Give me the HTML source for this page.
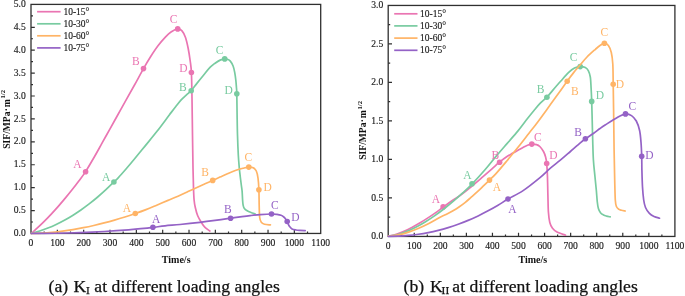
<!DOCTYPE html>
<html><head><meta charset="utf-8"><style>
html,body{margin:0;padding:0;background:#fff;}
body{width:685px;height:296px;overflow:hidden;}
svg{display:block;will-change:transform;}
text{font-family:"Liberation Serif",serif;}
.tk{font-size:9.6px;fill:#1a1a1a;stroke:#222;stroke-width:0.15px;}
.lg{font-size:9.5px;fill:#1a1a1a;stroke:#222;stroke-width:0.15px;}
.lb{font-size:11.5px;}
.yl{font-size:9.6px;font-weight:bold;fill:#111;}
.xt{font-size:10px;font-weight:bold;fill:#111;}
.cap{font-size:17.6px;fill:#111;stroke:#111;stroke-width:0.25px;}
</style></head><body>
<svg width="685" height="296" viewBox="0 0 685 296">
<rect x="31" y="4.4" width="289.7" height="229.05" fill="none" stroke="#303030" stroke-width="1.3"/>
<path d="M44.17 233.45v-2 M57.34 233.45v-3.8 M70.5 233.45v-2 M83.67 233.45v-3.8 M96.84 233.45v-2 M110.01 233.45v-3.8 M123.18 233.45v-2 M136.35 233.45v-3.8 M149.51 233.45v-2 M162.68 233.45v-3.8 M175.85 233.45v-2 M189.02 233.45v-3.8 M202.19 233.45v-2 M215.35 233.45v-3.8 M228.52 233.45v-2 M241.69 233.45v-3.8 M254.86 233.45v-2 M268.03 233.45v-3.8 M281.2 233.45v-2 M294.36 233.45v-3.8 M307.53 233.45v-2 M31 222h2 M31 210.54h3.8 M31 199.09h2 M31 187.64h3.8 M31 176.19h2 M31 164.74h3.8 M31 153.28h2 M31 141.83h3.8 M31 130.38h2 M31 118.92h3.8 M31 107.47h2 M31 96.02h3.8 M31 84.57h2 M31 73.12h3.8 M31 61.66h2 M31 50.21h3.8 M31 38.76h2 M31 27.31h3.8 M31 15.85h2" stroke="#303030" stroke-width="1.2" fill="none"/>
<text x="31" y="245.8" text-anchor="middle" class="tk">0</text>
<text x="57.34" y="245.8" text-anchor="middle" class="tk">100</text>
<text x="83.67" y="245.8" text-anchor="middle" class="tk">200</text>
<text x="110.01" y="245.8" text-anchor="middle" class="tk">300</text>
<text x="136.35" y="245.8" text-anchor="middle" class="tk">400</text>
<text x="162.68" y="245.8" text-anchor="middle" class="tk">500</text>
<text x="189.02" y="245.8" text-anchor="middle" class="tk">600</text>
<text x="215.35" y="245.8" text-anchor="middle" class="tk">700</text>
<text x="241.69" y="245.8" text-anchor="middle" class="tk">800</text>
<text x="268.03" y="245.8" text-anchor="middle" class="tk">900</text>
<text x="294.36" y="245.8" text-anchor="middle" class="tk">1000</text>
<text x="320.7" y="245.8" text-anchor="middle" class="tk">1100</text>
<text x="25.8" y="236.05" text-anchor="end" class="tk">0.0</text>
<text x="25.8" y="213.14" text-anchor="end" class="tk">0.5</text>
<text x="25.8" y="190.24" text-anchor="end" class="tk">1.0</text>
<text x="25.8" y="167.34" text-anchor="end" class="tk">1.5</text>
<text x="25.8" y="144.43" text-anchor="end" class="tk">2.0</text>
<text x="25.8" y="121.52" text-anchor="end" class="tk">2.5</text>
<text x="25.8" y="98.62" text-anchor="end" class="tk">3.0</text>
<text x="25.8" y="75.72" text-anchor="end" class="tk">3.5</text>
<text x="25.8" y="52.81" text-anchor="end" class="tk">4.0</text>
<text x="25.8" y="29.91" text-anchor="end" class="tk">4.5</text>
<text x="25.8" y="7" text-anchor="end" class="tk">5.0</text>
<rect x="388.2" y="5.45" width="286.7" height="231" fill="none" stroke="#303030" stroke-width="1.3"/>
<path d="M401.23 236.45v-2 M414.26 236.45v-3.8 M427.3 236.45v-2 M440.33 236.45v-3.8 M453.36 236.45v-2 M466.39 236.45v-3.8 M479.42 236.45v-2 M492.45 236.45v-3.8 M505.49 236.45v-2 M518.52 236.45v-3.8 M531.55 236.45v-2 M544.58 236.45v-3.8 M557.61 236.45v-2 M570.65 236.45v-3.8 M583.68 236.45v-2 M596.71 236.45v-3.8 M609.74 236.45v-2 M622.77 236.45v-3.8 M635.8 236.45v-2 M648.84 236.45v-3.8 M661.87 236.45v-2 M388.2 217.2h2 M388.2 197.95h3.8 M388.2 178.7h2 M388.2 159.45h3.8 M388.2 140.2h2 M388.2 120.95h3.8 M388.2 101.7h2 M388.2 82.45h3.8 M388.2 63.2h2 M388.2 43.95h3.8 M388.2 24.7h2" stroke="#303030" stroke-width="1.2" fill="none"/>
<text x="388.2" y="248.5" text-anchor="middle" class="tk">0</text>
<text x="414.26" y="248.5" text-anchor="middle" class="tk">100</text>
<text x="440.33" y="248.5" text-anchor="middle" class="tk">200</text>
<text x="466.39" y="248.5" text-anchor="middle" class="tk">300</text>
<text x="492.45" y="248.5" text-anchor="middle" class="tk">400</text>
<text x="518.52" y="248.5" text-anchor="middle" class="tk">500</text>
<text x="544.58" y="248.5" text-anchor="middle" class="tk">600</text>
<text x="570.65" y="248.5" text-anchor="middle" class="tk">700</text>
<text x="596.71" y="248.5" text-anchor="middle" class="tk">800</text>
<text x="622.77" y="248.5" text-anchor="middle" class="tk">900</text>
<text x="648.84" y="248.5" text-anchor="middle" class="tk">1000</text>
<text x="674.9" y="248.5" text-anchor="middle" class="tk">1100</text>
<text x="383.2" y="239.05" text-anchor="end" class="tk">0.0</text>
<text x="383.2" y="200.55" text-anchor="end" class="tk">0.5</text>
<text x="383.2" y="162.05" text-anchor="end" class="tk">1.0</text>
<text x="383.2" y="123.55" text-anchor="end" class="tk">1.5</text>
<text x="383.2" y="85.05" text-anchor="end" class="tk">2.0</text>
<text x="383.2" y="46.55" text-anchor="end" class="tk">2.5</text>
<text x="383.2" y="8.05" text-anchor="end" class="tk">3.0</text>
<line x1="37.1" y1="11.7" x2="60.6" y2="11.7" stroke="#ea75b2" stroke-width="1.7"/>
<text x="63.4" y="14.8" class="lg">10-15°</text>
<line x1="37.1" y1="23.8" x2="60.6" y2="23.8" stroke="#78cba0" stroke-width="1.7"/>
<text x="63.4" y="26.9" class="lg">10-30°</text>
<line x1="37.1" y1="35.8" x2="60.6" y2="35.8" stroke="#ffb466" stroke-width="1.7"/>
<text x="63.4" y="38.9" class="lg">10-60°</text>
<line x1="37.1" y1="47.9" x2="60.6" y2="47.9" stroke="#9462c6" stroke-width="1.7"/>
<text x="63.4" y="51" class="lg">10-75°</text>
<line x1="394.2" y1="13.8" x2="417.5" y2="13.8" stroke="#ea75b2" stroke-width="1.7"/>
<text x="420" y="16.9" class="lg">10-15°</text>
<line x1="394.2" y1="25.9" x2="417.5" y2="25.9" stroke="#78cba0" stroke-width="1.7"/>
<text x="420" y="29" class="lg">10-30°</text>
<line x1="394.2" y1="38.1" x2="417.5" y2="38.1" stroke="#ffb466" stroke-width="1.7"/>
<text x="420" y="41.2" class="lg">10-60°</text>
<line x1="394.2" y1="50.3" x2="417.5" y2="50.3" stroke="#9462c6" stroke-width="1.7"/>
<text x="420" y="53.4" class="lg">10-75°</text>
<path d="M31.4 233.4 C32.53 232.37 35.92 229.35 38.17 227.22 C40.43 225.09 42.69 222.88 44.95 220.6 C47.21 218.33 49.47 215.98 51.72 213.55 C53.98 211.13 56.24 208.64 58.5 206.07 C60.76 203.5 63.02 200.86 65.28 198.15 C67.53 195.43 69.79 192.65 72.05 189.79 C74.31 186.93 76.57 184.03 78.82 180.99 C81.08 177.96 83.07 175.52 85.6 171.6 C88.13 167.68 91.27 162.23 94 157.5 C96.73 152.77 99.33 147.98 102 143.2 C104.67 138.42 107.33 133.58 110 128.8 C112.67 124.02 115.33 119.27 118 114.5 C120.67 109.73 123.25 105.12 126 100.2 C128.75 95.28 131.58 90.27 134.5 85 C137.42 79.73 140.85 73.27 143.5 68.6 C146.15 63.93 147.98 60.8 150.4 57 C152.82 53.2 155.47 49.15 158 45.8 C160.53 42.45 163.43 39.2 165.6 36.9 C167.77 34.6 168.98 33.33 171 32 C173.02 30.67 175.87 29.08 177.7 28.9 C179.53 28.72 180.7 29.47 182 30.9 C183.3 32.33 184.47 34.57 185.5 37.5 C186.53 40.43 187.42 44.58 188.2 48.5 C188.98 52.42 189.67 57 190.2 61 C190.73 65 191.1 66.33 191.4 72.5 C191.7 78.67 191.82 87.58 192 98 C192.18 108.42 192.33 123.33 192.5 135 C192.67 146.67 192.83 159.17 193 168 C193.17 176.83 193.32 182.67 193.5 188 C193.68 193.33 193.8 196.75 194.1 200 C194.4 203.25 194.7 204.87 195.3 207.5 C195.9 210.13 196.68 213.3 197.7 215.8 C198.72 218.3 200.18 220.57 201.4 222.5 C202.62 224.43 203.58 225.98 205 227.4 C206.42 228.82 209.08 230.4 209.9 231" stroke="#ea75b2" stroke-width="1.7" fill="none" stroke-linecap="round" stroke-linejoin="round"/>
<circle cx="85.6" cy="171.7" r="2.8" fill="#ea75b2"/>
<circle cx="143.5" cy="68.6" r="2.8" fill="#ea75b2"/>
<circle cx="177.7" cy="28.9" r="2.8" fill="#ea75b2"/>
<circle cx="191.4" cy="72.5" r="2.8" fill="#ea75b2"/>
<path d="M31.4 233.4 C32.77 233.01 36.9 231.94 39.65 231.05 C42.4 230.16 45.15 229.18 47.9 228.08 C50.65 226.99 53.4 225.79 56.15 224.49 C58.9 223.2 61.65 221.79 64.4 220.29 C67.15 218.78 69.9 217.17 72.65 215.46 C75.4 213.75 78.15 211.93 80.9 210.01 C83.65 208.1 86.4 206.07 89.15 203.95 C91.9 201.82 94.65 199.6 97.4 197.26 C100.15 194.93 102.9 192.51 105.65 189.96 C108.4 187.42 111.78 184.06 113.9 182 C116.03 179.94 116.38 179.77 118.4 177.6 C120.42 175.43 123.47 171.93 126 169 C128.53 166.07 130.43 163.82 133.6 160 C136.77 156.18 141.13 150.83 145 146.1 C148.87 141.37 152.75 136.78 156.8 131.6 C160.85 126.42 166.1 119.23 169.3 115 C172.5 110.77 173.98 108.77 176 106.2 C178.02 103.63 179.65 101.5 181.4 99.6 C183.15 97.7 184.87 96.3 186.5 94.8 C188.13 93.3 189.5 92.47 191.2 90.6 C192.9 88.73 194.65 86.17 196.7 83.6 C198.75 81.03 201.28 77.9 203.5 75.2 C205.72 72.5 208.07 69.4 210 67.4 C211.93 65.4 213.42 64.42 215.1 63.2 C216.78 61.98 218.5 60.82 220.1 60.1 C221.7 59.38 223.45 59.02 224.7 58.9 C225.95 58.78 226.67 59.03 227.6 59.4 C228.53 59.77 229.38 60 230.3 61.1 C231.22 62.2 232.37 64.13 233.1 66 C233.83 67.87 234.25 69.97 234.7 72.3 C235.15 74.63 235.52 77.55 235.8 80 C236.08 82.45 236.23 84.7 236.4 87 C236.57 89.3 236.68 89.13 236.8 93.8 C236.92 98.47 236.98 108.13 237.1 115 C237.22 121.87 237.3 128.33 237.5 135 C237.7 141.67 238 149.5 238.3 155 C238.6 160.5 238.97 164.33 239.3 168 C239.63 171.67 239.97 174.17 240.3 177 C240.63 179.83 241 182.67 241.3 185 C241.6 187.33 241.88 188.5 242.1 191 C242.32 193.5 242.43 197.67 242.6 200 C242.77 202.33 242.83 203.63 243.1 205 C243.37 206.37 243.52 207.23 244.2 208.2 C244.88 209.17 246.07 210.08 247.2 210.8 C248.33 211.52 249.7 212 251 212.5 C252.3 213 254.33 213.58 255 213.8" stroke="#78cba0" stroke-width="1.7" fill="none" stroke-linecap="round" stroke-linejoin="round"/>
<circle cx="113.9" cy="182" r="2.8" fill="#78cba0"/>
<circle cx="191.2" cy="90.7" r="2.8" fill="#78cba0"/>
<circle cx="224.7" cy="58.9" r="2.8" fill="#78cba0"/>
<circle cx="236.8" cy="93.8" r="2.8" fill="#78cba0"/>
<path d="M31.4 233.4 C33.13 233.35 38.33 233.27 41.79 233.08 C45.25 232.9 48.72 232.63 52.18 232.3 C55.64 231.97 59.11 231.58 62.57 231.12 C66.03 230.67 69.5 230.15 72.96 229.58 C76.42 229 79.89 228.37 83.35 227.69 C86.81 227 90.28 226.26 93.74 225.47 C97.2 224.67 100.67 223.83 104.13 222.93 C107.59 222.03 111.06 221.08 114.52 220.08 C117.98 219.08 121.45 218.03 124.91 216.94 C128.37 215.84 131.79 214.72 135.3 213.5 C138.81 212.28 142.43 210.98 146 209.6 C149.57 208.22 153.03 206.73 156.7 205.2 C160.37 203.67 164.45 201.9 168 200.4 C171.55 198.9 174.67 197.67 178 196.2 C181.33 194.73 184.67 193.15 188 191.6 C191.33 190.05 195.17 188.2 198 186.9 C200.83 185.6 202.55 184.88 205 183.8 C207.45 182.72 210.2 181.52 212.7 180.4 C215.2 179.28 217.45 178.25 220 177.1 C222.55 175.95 225.33 174.63 228 173.5 C230.67 172.37 233.5 171.17 236 170.3 C238.5 169.43 240.87 168.83 243 168.3 C245.13 167.77 247.1 167.2 248.8 167.1 C250.5 167 251.95 167.05 253.2 167.7 C254.45 168.35 255.5 169.28 256.3 171 C257.1 172.72 257.57 174.87 258 178 C258.43 181.13 258.7 185.13 258.9 189.8 C259.1 194.47 259.07 201.38 259.2 206 C259.33 210.62 259.35 214.78 259.7 217.5 C260.05 220.22 260.5 221.18 261.3 222.3 C262.1 223.42 262.98 223.77 264.5 224.2 C266.02 224.63 269.42 224.78 270.4 224.9" stroke="#ffb466" stroke-width="1.7" fill="none" stroke-linecap="round" stroke-linejoin="round"/>
<circle cx="135.3" cy="213.5" r="2.8" fill="#ffb466"/>
<circle cx="212.7" cy="180.4" r="2.8" fill="#ffb466"/>
<circle cx="248.8" cy="167.1" r="2.8" fill="#ffb466"/>
<circle cx="258.9" cy="189.8" r="2.8" fill="#ffb466"/>
<path d="M31.4 233.4 C33.42 233.39 39.5 233.39 43.55 233.36 C47.6 233.33 51.65 233.29 55.7 233.23 C59.75 233.17 63.8 233.09 67.85 232.98 C71.9 232.88 75.95 232.76 80 232.61 C84.05 232.47 88.1 232.3 92.15 232.12 C96.2 231.93 100.25 231.72 104.3 231.48 C108.35 231.25 112.4 230.99 116.45 230.71 C120.5 230.43 124.55 230.12 128.6 229.79 C132.65 229.46 136.7 229.12 140.75 228.72 C144.8 228.32 148.86 227.89 152.9 227.4 C156.94 226.91 160.48 226.28 165 225.8 C169.52 225.32 174.17 225.08 180 224.5 C185.83 223.92 194.17 222.98 200 222.3 C205.83 221.62 209.9 221.08 215 220.4 C220.1 219.72 226.1 218.83 230.6 218.2 C235.1 217.57 238.75 217.03 242 216.6 C245.25 216.17 247.07 215.93 250.1 215.6 C253.13 215.27 256.63 214.87 260.2 214.6 C263.77 214.33 268.7 214.03 271.5 214 C274.3 213.97 275.42 214.18 277 214.4 C278.58 214.62 279.87 214.87 281 215.3 C282.13 215.73 283 216.35 283.8 217 C284.6 217.65 285.23 218.45 285.8 219.2 C286.37 219.95 286.78 220.67 287.2 221.5 C287.62 222.33 287.9 223.37 288.3 224.2 C288.7 225.03 288.98 225.72 289.6 226.5 C290.22 227.28 290.93 228.32 292 228.9 C293.07 229.48 294.67 229.75 296 230 C297.33 230.25 298.47 230.3 300 230.4 C301.53 230.5 304.33 230.57 305.2 230.6" stroke="#9462c6" stroke-width="1.7" fill="none" stroke-linecap="round" stroke-linejoin="round"/>
<circle cx="152.9" cy="227.3" r="2.8" fill="#9462c6"/>
<circle cx="230.6" cy="218.2" r="2.8" fill="#9462c6"/>
<circle cx="271.5" cy="214" r="2.8" fill="#9462c6"/>
<circle cx="287.2" cy="221.5" r="2.8" fill="#9462c6"/>
<text x="77.5" y="167.7" text-anchor="middle" class="lb" fill="#ea75b2">A</text>
<text x="135.9" y="64.6" text-anchor="middle" class="lb" fill="#ea75b2">B</text>
<text x="173.5" y="23.1" text-anchor="middle" class="lb" fill="#ea75b2">C</text>
<text x="183.3" y="71.6" text-anchor="middle" class="lb" fill="#ea75b2">D</text>
<text x="106.1" y="180.8" text-anchor="middle" class="lb" fill="#78cba0">A</text>
<text x="182.9" y="91" text-anchor="middle" class="lb" fill="#78cba0">B</text>
<text x="219.6" y="53.7" text-anchor="middle" class="lb" fill="#78cba0">C</text>
<text x="228.7" y="94.3" text-anchor="middle" class="lb" fill="#78cba0">D</text>
<text x="126.8" y="212.3" text-anchor="middle" class="lb" fill="#ffb466">A</text>
<text x="205.1" y="176.4" text-anchor="middle" class="lb" fill="#ffb466">B</text>
<text x="248.4" y="160.5" text-anchor="middle" class="lb" fill="#ffb466">C</text>
<text x="267.6" y="190.5" text-anchor="middle" class="lb" fill="#ffb466">D</text>
<text x="156.1" y="223.2" text-anchor="middle" class="lb" fill="#9462c6">A</text>
<text x="227.9" y="212.5" text-anchor="middle" class="lb" fill="#9462c6">B</text>
<text x="274.9" y="209.4" text-anchor="middle" class="lb" fill="#9462c6">C</text>
<text x="295.4" y="220.7" text-anchor="middle" class="lb" fill="#9462c6">D</text>
<path d="M388.4 236.2 C389.7 235.89 393.62 235.18 396.23 234.36 C398.84 233.55 401.45 232.44 404.06 231.29 C406.67 230.14 409.28 228.84 411.89 227.46 C414.5 226.09 417.1 224.61 419.71 223.05 C422.32 221.5 424.93 219.86 427.54 218.15 C430.15 216.45 432.76 214.66 435.37 212.82 C437.98 210.98 440.43 209.1 443.2 207.1 C445.97 205.1 449.03 202.85 452 200.8 C454.97 198.75 457.67 197.27 461 194.8 C464.33 192.33 468.33 189.03 472 186 C475.67 182.97 479.67 179.47 483 176.6 C486.33 173.73 489.27 171.2 492 168.8 C494.73 166.4 496.9 164.25 499.4 162.2 C501.9 160.15 504.73 158.03 507 156.5 C509.27 154.97 511.17 154.05 513 153 C514.83 151.95 516.33 151.13 518 150.2 C519.67 149.27 521.42 148.23 523 147.4 C524.58 146.57 526.03 145.75 527.5 145.2 C528.97 144.65 530.3 144.2 531.8 144.1 C533.3 144 535.17 144.2 536.5 144.6 C537.83 145 538.63 145.35 539.8 146.5 C540.97 147.65 542.53 149.75 543.5 151.5 C544.47 153.25 545.07 155 545.6 157 C546.13 159 546.4 160.5 546.7 163.5 C547 166.5 547.2 169.75 547.4 175 C547.6 180.25 547.73 188.83 547.9 195 C548.07 201.17 548.08 207.42 548.4 212 C548.72 216.58 549.12 219.78 549.8 222.5 C550.48 225.22 551.3 226.72 552.5 228.3 C553.7 229.88 554.83 230.85 557 232 C559.17 233.15 564.08 234.67 565.5 235.2" stroke="#ea75b2" stroke-width="1.7" fill="none" stroke-linecap="round" stroke-linejoin="round"/>
<circle cx="443.1" cy="206.9" r="2.8" fill="#ea75b2"/>
<circle cx="499.6" cy="162.3" r="2.8" fill="#ea75b2"/>
<circle cx="531.8" cy="144.1" r="2.8" fill="#ea75b2"/>
<circle cx="546.7" cy="163.5" r="2.8" fill="#ea75b2"/>
<path d="M388.4 236.2 C389.95 235.93 394.59 235.39 397.69 234.58 C400.79 233.77 403.88 232.62 406.98 231.36 C410.07 230.1 413.17 228.62 416.27 227.02 C419.36 225.41 422.46 223.63 425.56 221.73 C428.65 219.83 431.75 217.78 434.84 215.62 C437.94 213.45 441.04 211.15 444.13 208.75 C447.23 206.34 450.33 203.81 453.42 201.17 C456.52 198.54 459.61 195.79 462.71 192.95 C465.81 190.1 468.29 187.96 472 184.1 C475.71 180.24 481 174.42 485 169.8 C489 165.18 492.33 160.77 496 156.4 C499.67 152.03 503.33 147.85 507 143.6 C510.67 139.35 514.58 135.08 518 130.9 C521.42 126.72 524.8 121.95 527.5 118.5 C530.2 115.05 532.07 112.75 534.2 110.2 C536.33 107.65 538.18 105.37 540.3 103.2 C542.42 101.03 544.87 99.3 546.9 97.2 C548.93 95.1 550.22 93.25 552.5 90.6 C554.78 87.95 557.9 84.33 560.6 81.3 C563.3 78.27 566.38 74.62 568.7 72.4 C571.02 70.18 572.58 68.97 574.5 68 C576.42 67.03 578.4 66.68 580.2 66.6 C582 66.52 583.95 66.83 585.3 67.5 C586.65 68.17 587.47 69.02 588.3 70.6 C589.13 72.18 589.83 74.1 590.3 77 C590.77 79.9 590.87 83.93 591.1 88 C591.33 92.07 591.52 96.07 591.7 101.4 C591.88 106.73 592.03 113.57 592.2 120 C592.37 126.43 592.5 133.33 592.7 140 C592.9 146.67 593.03 154 593.4 160 C593.77 166 594.42 171 594.9 176 C595.38 181 595.9 185.67 596.3 190 C596.7 194.33 596.95 198.92 597.3 202 C597.65 205.08 597.87 206.7 598.4 208.5 C598.93 210.3 599.65 211.72 600.5 212.8 C601.35 213.88 602.5 214.45 603.5 215 C604.5 215.55 605.38 215.78 606.5 216.1 C607.62 216.42 609.58 216.77 610.2 216.9" stroke="#78cba0" stroke-width="1.7" fill="none" stroke-linecap="round" stroke-linejoin="round"/>
<circle cx="472" cy="183.8" r="2.8" fill="#78cba0"/>
<circle cx="546.9" cy="97.2" r="2.8" fill="#78cba0"/>
<circle cx="580.2" cy="66.6" r="2.8" fill="#78cba0"/>
<circle cx="591.7" cy="101.4" r="2.8" fill="#78cba0"/>
<path d="M388.4 236.2 C390.08 235.98 395.14 235.56 398.51 234.88 C401.88 234.21 405.25 233.22 408.62 232.13 C411.99 231.03 415.36 229.74 418.73 228.32 C422.1 226.9 425.19 225.49 428.84 223.6 C432.49 221.72 437.57 218.6 440.6 217 C443.63 215.4 444.93 215.03 447 214 C449.07 212.97 451 211.97 453 210.8 C455 209.63 457 208.37 459 207 C461 205.63 463 204.2 465 202.6 C467 201 468.83 199.3 471 197.4 C473.17 195.5 475.83 193.2 478 191.2 C480.17 189.2 482.08 187.25 484 185.4 C485.92 183.55 487.5 182.07 489.5 180.1 C491.5 178.13 493.08 176.83 496 173.6 C498.92 170.37 503.33 165.08 507 160.7 C510.67 156.32 514.33 151.88 518 147.3 C521.67 142.72 526.15 136.83 529 133.2 C531.85 129.57 533.27 127.87 535.1 125.5 C536.93 123.13 537.45 122.48 540 119 C542.55 115.52 546.97 109.33 550.4 104.6 C553.83 99.87 557.8 94.5 560.6 90.6 C563.4 86.7 565 84.23 567.2 81.2 C569.4 78.17 571.62 75.13 573.8 72.4 C575.98 69.67 578.1 67.37 580.3 64.8 C582.5 62.23 584.48 59.58 587 57 C589.52 54.42 593.23 51.22 595.4 49.3 C597.57 47.38 598.5 46.52 600 45.5 C601.5 44.48 603 43.2 604.4 43.2 C605.8 43.2 607.25 43.95 608.4 45.5 C609.55 47.05 610.57 49.42 611.3 52.5 C612.03 55.58 612.48 58.72 612.8 64 C613.12 69.28 613.07 76.53 613.2 84.2 C613.33 91.87 613.45 99.03 613.6 110 C613.75 120.97 613.92 138.33 614.1 150 C614.28 161.67 614.5 171.67 614.7 180 C614.9 188.33 615.02 195.58 615.3 200 C615.58 204.42 615.78 204.93 616.4 206.5 C617.02 208.07 618.15 208.77 619 209.4 C619.85 210.03 620.47 210.03 621.5 210.3 C622.53 210.57 624.58 210.88 625.2 211" stroke="#ffb466" stroke-width="1.7" fill="none" stroke-linecap="round" stroke-linejoin="round"/>
<circle cx="489.5" cy="180.1" r="2.8" fill="#ffb466"/>
<circle cx="567.2" cy="81.2" r="2.8" fill="#ffb466"/>
<circle cx="604.4" cy="43.2" r="2.8" fill="#ffb466"/>
<circle cx="613.2" cy="84.2" r="2.8" fill="#ffb466"/>
<path d="M388.4 236.3 C390.06 236.27 395.04 236.24 398.37 236.1 C401.69 235.95 405.01 235.74 408.33 235.43 C411.66 235.13 414.98 234.75 418.3 234.27 C421.62 233.8 424.94 233.24 428.27 232.59 C431.59 231.94 434.91 231.2 438.23 230.37 C441.56 229.54 444.88 228.62 448.2 227.6 C451.52 226.58 454.84 225.48 458.17 224.27 C461.49 223.07 464.81 221.77 468.13 220.38 C471.46 218.99 474.78 217.5 478.1 215.91 C481.42 214.33 484.74 212.65 488.07 210.87 C491.39 209.08 494.71 207.21 498.03 205.23 C501.36 203.25 503.82 201.44 508 199 C512.18 196.56 517.77 194.17 523.1 190.6 C528.43 187.03 535.5 181.3 540 177.6 C544.5 173.9 546.72 171.3 550.1 168.4 C553.48 165.5 556.92 163.02 560.3 160.2 C563.68 157.38 567.02 154.43 570.4 151.5 C573.78 148.57 578.08 144.72 580.6 142.6 C583.12 140.48 583.32 140.37 585.5 138.8 C587.68 137.23 591.28 134.92 593.7 133.2 C596.12 131.48 598.03 129.9 600 128.5 C601.97 127.1 602.62 126.63 605.5 124.8 C608.38 122.97 613.97 119.32 617.3 117.5 C620.63 115.68 623.13 114.22 625.5 113.9 C627.87 113.58 629.7 114.42 631.5 115.6 C633.3 116.78 634.95 118.52 636.3 121 C637.65 123.48 638.82 126.95 639.6 130.5 C640.38 134.05 640.65 138.02 641 142.3 C641.35 146.58 641.55 151.58 641.7 156.2 C641.85 160.82 641.77 164.87 641.9 170 C642.03 175.13 642.2 182 642.5 187 C642.8 192 643.2 196.58 643.7 200 C644.2 203.42 644.55 205.27 645.5 207.5 C646.45 209.73 647.98 211.9 649.4 213.4 C650.82 214.9 652.32 215.7 654 216.5 C655.68 217.3 658.58 217.92 659.5 218.2" stroke="#9462c6" stroke-width="1.7" fill="none" stroke-linecap="round" stroke-linejoin="round"/>
<circle cx="508" cy="199" r="2.8" fill="#9462c6"/>
<circle cx="585.4" cy="138.7" r="2.8" fill="#9462c6"/>
<circle cx="625.5" cy="113.9" r="2.8" fill="#9462c6"/>
<circle cx="641.7" cy="156.2" r="2.8" fill="#9462c6"/>
<text x="436" y="203.4" text-anchor="middle" class="lb" fill="#ea75b2">A</text>
<text x="495.3" y="159.4" text-anchor="middle" class="lb" fill="#ea75b2">B</text>
<text x="537.8" y="141.2" text-anchor="middle" class="lb" fill="#ea75b2">C</text>
<text x="553.5" y="159.1" text-anchor="middle" class="lb" fill="#ea75b2">D</text>
<text x="467.5" y="178.6" text-anchor="middle" class="lb" fill="#78cba0">A</text>
<text x="540.5" y="93.2" text-anchor="middle" class="lb" fill="#78cba0">B</text>
<text x="573.6" y="60.5" text-anchor="middle" class="lb" fill="#78cba0">C</text>
<text x="600" y="99.3" text-anchor="middle" class="lb" fill="#78cba0">D</text>
<text x="497" y="191.3" text-anchor="middle" class="lb" fill="#ffb466">A</text>
<text x="574.8" y="94.7" text-anchor="middle" class="lb" fill="#ffb466">B</text>
<text x="604.4" y="36.3" text-anchor="middle" class="lb" fill="#ffb466">C</text>
<text x="619.9" y="87.8" text-anchor="middle" class="lb" fill="#ffb466">D</text>
<text x="512.3" y="212.6" text-anchor="middle" class="lb" fill="#9462c6">A</text>
<text x="578" y="135.9" text-anchor="middle" class="lb" fill="#9462c6">B</text>
<text x="632.3" y="109.9" text-anchor="middle" class="lb" fill="#9462c6">C</text>
<text x="649.3" y="159.1" text-anchor="middle" class="lb" fill="#9462c6">D</text>
<text transform="translate(9.6 119.4) rotate(-90)" text-anchor="middle" class="yl">SIF/MPa<tspan dx="0.3">·</tspan><tspan dx="0.6">m</tspan><tspan font-size="6.6" dx="0.9" dy="-4.9">1/2</tspan></text>
<text transform="translate(366.4 130.4) rotate(-90)" text-anchor="middle" class="yl">SIF/MPa<tspan dx="0.3">·</tspan><tspan dx="0.6">m</tspan><tspan font-size="6.6" dx="0.9" dy="-4.9">1/2</tspan></text>
<text x="176.2" y="263.1" text-anchor="middle" class="xt">Time/s</text>
<text x="532.8" y="262.5" text-anchor="middle" class="xt">Time/s</text>
<text x="48.6" y="291.6" class="cap">(a)</text>
<text x="73.6" y="291.6" class="cap">K</text>
<text x="86" y="294.3" class="cap" style="font-size:11.4px">I</text>
<text x="94.25" y="291.6" class="cap" textLength="185.6" lengthAdjust="spacing">at different loading angles</text>
<text x="403.6" y="291.6" class="cap">(b)</text>
<text x="429.9" y="291.6" class="cap">K</text>
<text x="441.6" y="294.3" class="cap" style="font-size:11.4px">II</text>
<text x="452.25" y="291.6" class="cap" textLength="185.6" lengthAdjust="spacing">at different loading angles</text>
</svg>
</body></html>
